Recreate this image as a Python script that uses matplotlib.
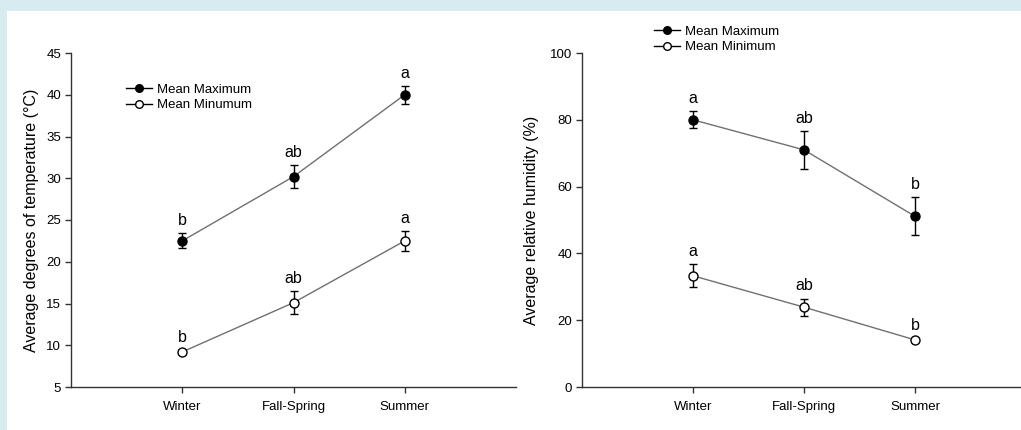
import numpy as np
import matplotlib
matplotlib.use('Agg')
import matplotlib.pyplot as plt
from matplotlib.patches import Rectangle

plt.rcParams['font.family'] = ['Liberation Sans', 'DejaVu Sans']

seasons = ['Winter', 'Fall-Spring', 'Summer']

# temperature (°C)
temp_max = [22.5, 30.2, 40.0]
temp_max_err = [0.9, 1.4, 1.1]
temp_min = [9.2, 15.1, 22.5]
temp_min_err = [0.2, 1.35, 1.2]
temp_max_letters = ['b', 'ab', 'a']
temp_min_letters = ['b', 'ab', 'a']

# relative humidity (%)
hum_max = [80.0, 71.0, 51.1]
hum_max_err = [2.6, 5.6, 5.7]
hum_min = [33.3, 23.9, 14.1]
hum_min_err = [3.4, 2.5, 0.5]
hum_max_letters = ['a', 'ab', 'b']
hum_min_letters = ['a', 'ab', 'b']

W, H = 1021, 430
fig = plt.figure(figsize=(W/100, H/100), dpi=100)
fig.patch.set_facecolor('#d8ebf0')
fig.patches.append(Rectangle((7/W, 0), 1, 1 - 11/H, transform=fig.transFigure,
                             facecolor='white', edgecolor='none', zorder=-10))

x = np.arange(1, 4)
line_col = '#707070'

def panel(ax, ymax, ymax_err, ymin, ymin_err, lmax, lmin, lab_off):
    ax.set_facecolor('none')
    ax.errorbar(x, ymax, yerr=ymax_err, color=line_col, lw=1, marker='o', ms=6.5,
                mfc='black', mec='black', ecolor='black', elinewidth=1, capsize=3,
                zorder=3)
    ax.errorbar(x, ymin, yerr=ymin_err, color=line_col, lw=1, marker='o', ms=6.5,
                mfc='white', mec='black', ecolor='black', elinewidth=1, capsize=3,
                zorder=3)
    for xi, y, e, t in zip(x, ymax, ymax_err, lmax):
        ax.text(xi, y + e + lab_off, t, ha='center', va='bottom', fontsize=11.5)
    for xi, y, e, t in zip(x, ymin, ymin_err, lmin):
        ax.text(xi, y + e + lab_off, t, ha='center', va='bottom', fontsize=11.5)
    ax.set_xlim(0, 4)
    ax.set_xticks(x)
    ax.set_xticklabels(seasons, fontsize=9.5)
    ax.spines['top'].set_visible(False)
    ax.spines['right'].set_visible(False)
    for s in ['left', 'bottom']:
        ax.spines[s].set_color('#333333')
        ax.spines[s].set_linewidth(1)
    ax.tick_params(direction='out', length=4, width=1, labelsize=9.5, colors='#333333',
                   labelcolor='black', pad=3)
    ax.tick_params(axis='x', pad=6)

handles = [
    plt.Line2D([], [], color='black', lw=1, marker='o', ms=5.5, mfc='black', mec='black'),
    plt.Line2D([], [], color='black', lw=1, marker='o', ms=5.5, mfc='white', mec='black'),
]

# left panel
ax1 = fig.add_axes([71/W, 1 - 387/H, 445/W, 334/H])
panel(ax1, temp_max, temp_max_err, temp_min, temp_min_err,
      temp_max_letters, temp_min_letters, 0.6)
ax1.set_ylim(5, 45)
ax1.set_yticks(np.arange(5, 46, 5))
ax1.set_ylabel('Average degrees of temperature (°C)', fontsize=11.5, labelpad=5)
fig.legend(handles, ['Mean Maximum', 'Mean Minumum'], loc='upper left',
           bbox_to_anchor=(119/W, 1 - 77/H), frameon=False, fontsize=9.5,
           handlelength=2.0, handletextpad=0.4, labelspacing=0.25, borderpad=0)

# right panel
ax2 = fig.add_axes([582/W, 1 - 387/H, 444/W, 334/H])
panel(ax2, hum_max, hum_max_err, hum_min, hum_min_err,
      hum_max_letters, hum_min_letters, 1.6)
ax2.set_ylim(0, 100)
ax2.set_yticks(np.arange(0, 101, 20))
ax2.set_ylabel('Average relative humidity (%)', fontsize=11.5, labelpad=8)
fig.legend(handles, ['Mean Maximum', 'Mean Minimum'], loc='upper left',
           bbox_to_anchor=(647/W, 1 - 19/H), frameon=False, fontsize=9.5,
           handlelength=2.0, handletextpad=0.4, labelspacing=0.25, borderpad=0)

fig.savefig('out.png', dpi=100, facecolor=fig.get_facecolor())
